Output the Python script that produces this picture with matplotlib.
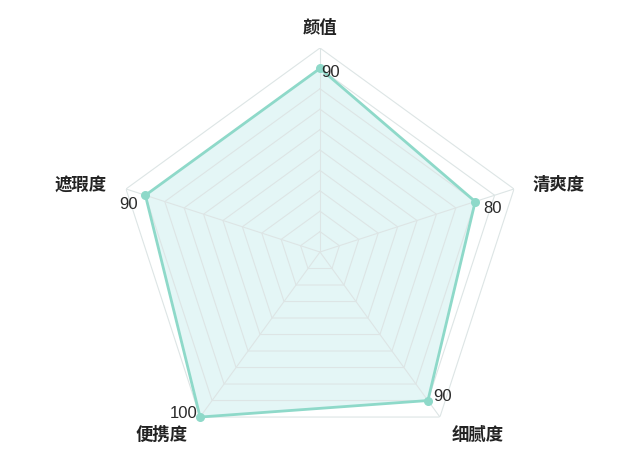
import numpy as np
import matplotlib
matplotlib.use("Agg")
import matplotlib.pyplot as plt

plt.rcParams['font.family'] = ['Noto Sans CJK SC', 'DejaVu Sans']

categories = ['颜值', '清爽度', '细腻度', '便携度', '遮瑕度']
values = [90, 80, 90, 100, 90]
max_value = 100
ring_levels = [10, 20, 30, 40, 50, 60, 70, 80, 90, 100]

# layout (pixel offsets)
value_offsets = [(1, -4), (8, -7), (5, 4), (-3, 4), (-8, -9)]
value_ha = ['left', 'left', 'left', 'right', 'right']
cat_offsets = [(0, 20), (19, 4), (38, -18), (-38, -18), (-45, 4)]
cat_ha = ['center', 'left', 'center', 'center', 'center']

fig = plt.figure(figsize=(6.4, 4.62), dpi=100)
ax = fig.add_axes([116/640, 6/462, 408/640, 408/462], projection='polar')
ax.set_theta_zero_location('N')
ax.set_theta_direction(-1)
ax.set_ylim(0, max_value)
ax.grid(False)
ax.spines['polar'].set_visible(False)
ax.set_xticks([])
ax.set_yticks([])
ax.patch.set_alpha(0)

n = len(categories)
angles = np.linspace(0, 2 * np.pi, n, endpoint=False)
closed = np.concatenate([angles, angles[:1]])

# data fill
vals_closed = values + values[:1]
ax.fill(closed, vals_closed, color='#e4f6f6', zorder=1)

# polygon grid rings
for lvl in ring_levels:
    ax.plot(closed, [lvl] * (n + 1), color='#dde5e5', lw=0.8, zorder=2)
# spokes
for a in angles:
    ax.plot([a, a], [0, max_value], color='#dde5e5', lw=0.8, zorder=2)

# data line and points
ax.plot(closed, vals_closed, color='#8ed9c9', lw=2.0, zorder=3)
ax.scatter(angles, values, s=30, color='#8ed9c9', zorder=4, clip_on=False)

for a, v, off, ha in zip(angles, values, value_offsets, value_ha):
    ax.annotate(str(v), xy=(a, v), xytext=off, textcoords='offset pixels',
                ha=ha, va='center', fontsize=12, color='#2a2a2a',
                family=['Liberation Sans', 'DejaVu Sans'],
                annotation_clip=False, zorder=5)

for a, c, off, ha in zip(angles, categories, cat_offsets, cat_ha):
    ax.annotate(c, xy=(a, max_value), xytext=off, textcoords='offset pixels',
                ha=ha, va='center', fontsize=12.5, color='#222222',
                fontweight='bold',
                annotation_clip=False, zorder=5)

fig.savefig('out.png', dpi=100)
